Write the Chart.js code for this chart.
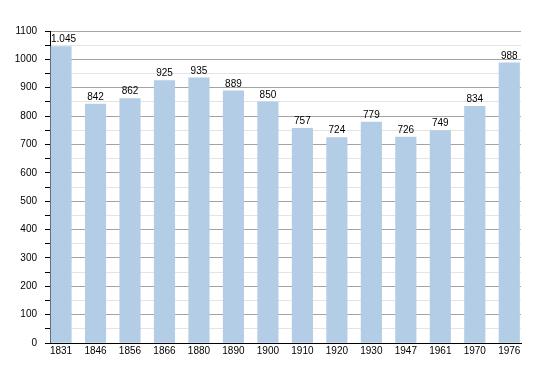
<!DOCTYPE html>
<html>
<head>
<meta charset="utf-8">
<script src="https://cdn.jsdelivr.net/npm/chart.js@4"></script>
<style>
html,body{margin:0;padding:0;background:#fff;}
#wrap{width:550px;height:373px;}
</style>
</head>
<body>
<div id="wrap"><canvas id="c" width="550" height="373"></canvas></div>
<script>
const years = ["1831","1846","1856","1866","1880","1890","1900","1910","1920","1930","1947","1961","1970","1976"];
const population = [1045, 842, 862, 925, 935, 889, 850, 757, 724, 779, 726, 749, 834, 988];
const yTickLabels = ["0","100","200","300","400","500","600","700","800","900","1000","1100"];

const fmt = v => v >= 1000 ? Math.floor(v/1000) + "." + String(v%1000).padStart(3,"0") : String(v);

const labelPlugin = {
  id: 'valueLabels',
  afterDatasetsDraw(chart) {
    const ctx = chart.ctx;
    const meta = chart.getDatasetMeta(0);
    const left = chart.chartArea.left;
    ctx.save();
    ctx.font = '10px "Liberation Sans", Arial, sans-serif';
    ctx.fillStyle = '#000';
    ctx.textAlign = 'center';
    ctx.textBaseline = 'bottom';
    meta.data.forEach((bar, i) => {
      const t = fmt(population[i]);
      const w = ctx.measureText(t).width;
      const x = Math.max(bar.x, left + 1 + w / 2);
      ctx.fillText(t, x, bar.y - 2);
    });
    ctx.restore();
  }
};

new Chart(document.getElementById('c'), {
  type: 'bar',
  data: {
    datasets: [{
      data: population.map((v, i) => ({x: i, y: v})),
      backgroundColor: '#b3cde6',
      borderWidth: 0,
      barThickness: 20.5
    }]
  },
  options: {
    responsive: false,
    animation: false,
    layout: {padding: {left: 0, right: 29, top: 31, bottom: 0}},
    plugins: {legend: {display: false}, tooltip: {enabled: false}},
    scales: {
      x: {
        type: 'linear',
        offset: false,
        min: -0.32,
        max: 13.34,
        afterBuildTicks: s => { s.ticks = years.map((_, i) => ({value: i})); },
        afterFit: s => { s.height = 30; },
        ticks: {
          callback: v => years[v],
          font: {family: '"Liberation Sans", Arial, sans-serif', size: 10},
          color: '#000',
          padding: 2,
          maxRotation: 0,
          autoSkip: false
        },
        grid: {display: false, drawTicks: false},
        border: {display: true, color: '#000', width: 1}
      },
      y: {
        min: 0,
        max: 1100,
        afterFit: s => { s.width = 50; },
        ticks: {
          stepSize: 50,
          autoSkip: false,
          callback: v => (v % 100 === 0 ? yTickLabels[v/100] : ''),
          font: {family: '"Liberation Sans", Arial, sans-serif', size: 10},
          color: '#000',
          padding: 8
        },
        grid: {
          color: c => (c.tick && c.tick.value % 100 === 0 ? '#a3a3a3' : '#e4e4e4'),
          tickColor: '#000',
          tickLength: 5,
          drawOnChartArea: true
        },
        border: {display: true, color: '#000', width: 1}
      }
    }
  },
  plugins: [labelPlugin]
});
</script>
</body>
</html>
